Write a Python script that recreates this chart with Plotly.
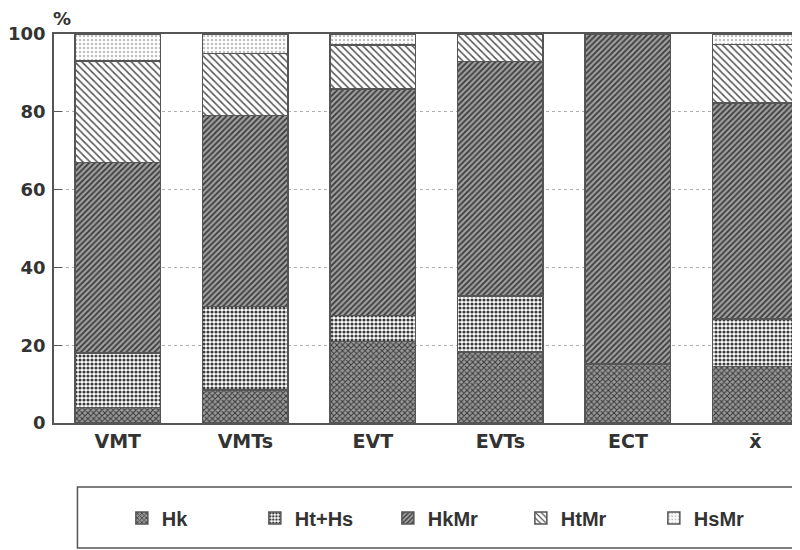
import plotly.graph_objects as go

categories = ["VMT", "VMTs", "EVT", "EVTs", "ECT", "x\u0304"]
hk    = [4.0, 8.5, 21.0, 18.3, 15.2, 14.5]
hths  = [14.0, 21.5, 6.7, 14.4, 0.0, 12.3]
hkmr  = [49.0, 49.0, 58.2, 60.2, 84.8, 55.4]
htmr  = [26.0, 16.0, 11.3, 7.1, 0.0, 15.1]
hsmr  = [7.0, 5.0, 2.8, 0.0, 0.0, 2.7]
series_names = ["Hk", "Ht+Hs", "HkMr", "HtMr", "HsMr"]
y_ticks = [0, 20, 40, 60, 80, 100]

styles = [
    dict(shape="x", fg="#3a3a3a", bg="#9a9a9a", size=4, sol=0.45),
    dict(shape=".", fg="#3a3a3a", bg="#ffffff", size=4, sol=0.5),
    dict(shape="/", fg="#3a3a3a", bg="#a0a0a0", size=4, sol=0.45),
    dict(shape="\\", fg="#555555", bg="#ffffff", size=5, sol=0.3),
    dict(shape=".", fg="#c0c0c0", bg="#ffffff", size=4, sol=0.3),
]

fig = go.Figure()
for name, vals, st in zip(series_names, [hk, hths, hkmr, htmr, hsmr], styles):
    fig.add_trace(go.Bar(
        x=categories, y=vals, name=name,
        marker=dict(
            color=st["bg"],
            line=dict(color="#555555", width=1.5),
            pattern=dict(shape=st["shape"], fgcolor=st["fg"], bgcolor=st["bg"],
                         size=st["size"], solidity=st["sol"], fillmode="replace"),
        ),
    ))

tick_family = "DejaVu Sans, sans-serif"
legend_family = "Liberation Sans, Arial, sans-serif"
fig.update_layout(
    autosize=False,
    barmode="stack",
    bargap=0.33,
    width=800, height=550,
    margin=dict(l=46, r=0, t=26, b=135),
    plot_bgcolor="white", paper_bgcolor="white",
    font=dict(family=tick_family, color="#333333"),
    showlegend=True,
    legend=dict(
        orientation="h", x=0.09, y=-0.244, xanchor="left", yanchor="middle",
        borderwidth=0, bgcolor="rgba(0,0,0,0)",
        entrywidth=88, entrywidthmode="pixels",
        font=dict(size=20, family=legend_family, color="#333333", weight="bold"),
        traceorder="normal",
    ),
    xaxis=dict(
        range=[-0.5, 5.412], showline=True, linecolor="#555555", linewidth=1.5,
        mirror=True, ticks="", showgrid=False, automargin=False,
        tickfont=dict(size=19, family=tick_family, color="#333333", weight="bold"),
    ),
    yaxis=dict(
        range=[0, 100], tickvals=y_ticks, showline=True, linecolor="#555555",
        linewidth=1.5, ticks="inside", ticklen=8, tickcolor="#555555",
        ticklabelstandoff=3,
        showgrid=True, gridcolor="#b0b0b0", griddash="dot", gridwidth=1,
        automargin=False,
        tickfont=dict(size=18, family=tick_family, color="#333333", weight="bold"),
        zeroline=False,
    ),
    shapes=[dict(
        type="rect", xref="paper", yref="paper",
        x0=0.0311, x1=1.0, y0=-0.3213, y1=-0.1645,
        line=dict(color="#555555", width=1.5), fillcolor="rgba(0,0,0,0)",
    )],
    annotations=[dict(
        text="%", xref="paper", yref="paper", x=0.0108, y=1.0, yshift=16,
        xanchor="center", yanchor="middle", showarrow=False,
        font=dict(size=18, family=tick_family, color="#333333", weight="bold"),
    )],
)

fig.write_html("out.html", config={"responsive": False})
